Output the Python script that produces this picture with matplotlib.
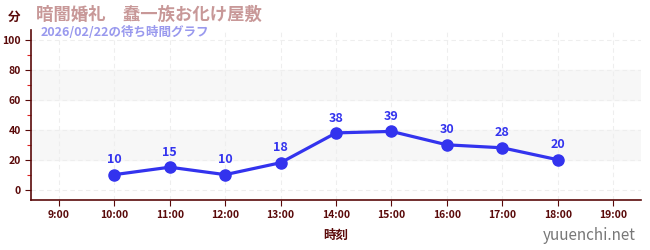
import matplotlib
matplotlib.use("Agg")
import matplotlib.pyplot as plt

plt.rcParams['font.family'] = ['Noto Sans CJK JP', 'DejaVu Sans']

# data
hours = [10, 11, 12, 13, 14, 15, 16, 17, 18]
waits = [10, 15, 10, 18, 38, 39, 30, 28, 20]
tick_hours = list(range(9, 20))
tick_labels = ['%d:00' % h for h in tick_hours]

title = '暗闇婚礼　蠢一族お化け屋敷'
subtitle = '2026/02/22の待ち時間グラフ'

axis_col = '#5a0a0a'
line_col = '#3333ee'

fig = plt.figure(figsize=(6.5, 2.5), dpi=100)
ax = fig.add_axes([0.048, 0.2, 0.938, 0.68])

ax.set_xlim(8.5, 19.5)
ax.set_ylim(-7, 107)

# background bands
for lo, hi in [(20, 40), (60, 80)]:
    ax.axhspan(lo, hi, color='#f7f7f7', zorder=0)

ax.set_xticks(tick_hours)
ax.set_xticklabels(tick_labels)
ax.set_yticks([0, 20, 40, 60, 80, 100])
ax.set_yticks([10, 30, 50, 70, 90], minor=True)
ax.grid(True, which='major', color='#eeeeee', linestyle=(0, (4, 3)), linewidth=0.8)

for s in ['top', 'right']:
    ax.spines[s].set_visible(False)
for s in ['left', 'bottom']:
    ax.spines[s].set_color(axis_col)
    ax.spines[s].set_linewidth(1.2)

ax.tick_params(axis='both', which='major', colors=axis_col, labelsize=7.5, length=4, width=0.8)
ax.tick_params(axis='y', which='minor', colors='#dd2222', length=3, width=0.8)
for lab in ax.get_xticklabels() + ax.get_yticklabels():
    lab.set_color(axis_col)
    lab.set_fontweight('bold')

ax.plot(hours, waits, color=line_col, linewidth=2.3, marker='o', markersize=8, zorder=3)
for h, w in zip(hours, waits):
    ax.annotate(str(w), (h, w), textcoords='offset points', xytext=(0, 6),
                ha='center', va='bottom', color=line_col, fontsize=9, fontweight='bold')

ax.set_xlabel('時刻', color=axis_col, fontsize=9, fontweight='bold', labelpad=6)

fig.text(0.012, 0.93, '分', color=axis_col, fontsize=9, fontweight='bold', va='center')
fig.text(0.055, 0.94, title, color='#c89898', fontsize=12.5, fontweight='bold', va='center')
fig.text(0.062, 0.872, subtitle, color='#9999ee', fontsize=9, fontweight='bold', va='center')
fig.text(0.978, 0.06, 'yuuenchi.net', color='#777777', fontsize=11, ha='right', va='center')

fig.savefig('out.png', dpi=100)
